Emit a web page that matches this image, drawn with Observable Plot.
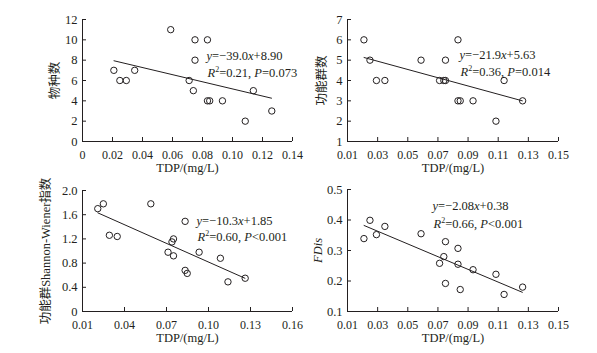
<!DOCTYPE html>
<html><head><meta charset="utf-8">
<script src="https://cdn.jsdelivr.net/npm/d3@7"></script>
<script src="https://cdn.jsdelivr.net/npm/@observablehq/plot@0.6"></script>
<style>
body{margin:0;background:#fff;}
#wrap{position:relative;width:597px;height:353px;overflow:hidden;background:#fff;}
#wrap svg{position:absolute;overflow:visible;background:transparent;}
</style></head><body><div id="wrap"></div>
<script>
// shared x values (TDP, mg/L)
const tdp = [0.0209,0.0249,0.0292,0.0348,0.0588,0.0711,0.0739,0.0750,0.0750,0.0833,0.0833,0.0848,0.0933,0.1085,0.1139,0.1262];
// panel series
const species  = [7,6,6,7,11,6,5,10,8,10,4,4,4,2,5,3];
const groups   = [6,5,4,4,5,4,4,4,5,6,3,3,3,2,4,3];
const shannon  = [1.70,1.78,1.26,1.24,1.78,0.98,1.15,1.20,0.92,1.49,0.68,0.63,0.98,0.88,0.49,0.55];
const fdis     = [0.339,0.399,0.352,0.379,0.355,0.258,0.280,0.329,0.192,0.307,0.255,0.172,0.237,0.222,0.156,0.180];
// fitted line end points
const fitX = [0.021, 0.126];
const fitSpecies = [7.94, 4.26];
const fitGroups = [5.13, 3.00];
const fitShannon = [1.63, 0.55];
const fitFdis = [0.382, 0.163];
// tick values
const xTicks1 = [0,0.02,0.04,0.06,0.08,0.10,0.12,0.14];
const xTicks2 = [0.01,0.03,0.05,0.07,0.09,0.11,0.13,0.15];
const xTicks3 = [0.01,0.04,0.07,0.10,0.13,0.16];
const yTicks1 = [0,2,4,6,8,10,12];
const yTicks2 = [1,2,3,4,5,6,7];
const yTicks3 = [0,0.4,0.8,1.2,1.6,2.0];
const yTicks4 = [0.1,0.2,0.3,0.4,0.5];
// texts
const xLabel = "TDP/(mg/L)";
const yLabels = ["物种数","功能群数","功能群Shannon-Wiener指数","*FDis*"];
const eqs = [
  ["*y*=−39.0*x*+8.90","*R*^2^=0.21, *P*=0.073"],
  ["*y*=−21.9*x*+5.63","*R*^2^=0.36, *P*=0.014"],
  ["*y*=−10.3*x*+1.85","*R*^2^=0.60, *P*<0.001"],
  ["*y*=−2.08*x*+0.38","*R*^2^=0.66, *P*<0.001"]
];

const ink = "#231f20";
const fmt = n => d => d === 0 ? "0" : d.toFixed(n);

function richify(svg){
  d3.select(svg).selectAll("text").each(function(){
    const t = this.textContent;
    if (!/[*^]/.test(t)) return;
    const el = d3.select(this);
    el.selectAll("*").remove(); el.text(null);
    const parts = t.split(/(\*[^*]+\*|\^[^^]+\^)/).filter(s => s);
    let sup = false;
    for (const p of parts) {
      let ts;
      if (p[0] === "*") ts = el.append("tspan").attr("font-style","italic").text(p.slice(1,-1));
      else if (p[0] === "^") { el.append("tspan").attr("font-size","8px").attr("dy","-5").text(p.slice(1,-1)); sup = true; continue; }
      else ts = el.append("tspan").text(p);
      if (sup) { ts.attr("dy","5"); sup = false; }
    }
  });
}

function panel(o){
  const ml = 82, mt = 19, mr = 24, mb = 36;
  const data = tdp.map((x,i) => ({x, y: o.ys[i]}));
  const line = fitX.map((x,i) => ({x, y: o.fit[i]}));
  const svg = Plot.plot({
    width: ml + o.fw + mr, height: mt + o.fh + mb,
    marginLeft: ml, marginTop: mt, marginRight: mr, marginBottom: mb,
    style: {fontFamily: "'Liberation Serif','Times New Roman','Noto Sans CJK SC',serif", fontSize: "12px", color: ink, background: "transparent", overflow: "visible"},
    x: {domain: o.xDomain},
    y: {domain: o.yDomain},
    marks: [
      Plot.axisX(o.xTicks, {tickSize: 0, tickPadding: 9, tickFormat: o.xFmt, label: null}),
      Plot.axisY(o.yTicks, {tickSize: 0, tickPadding: 5, tickFormat: o.yFmt, label: o.yLabel, labelAnchor: "center", labelOffset: o.ylOff, labelArrow: "none", fontSize: 12.5}),
      Plot.tickX(o.xTicks, {x: d => d, insetTop: o.fh - 4, stroke: ink}),
      Plot.tickY(o.yTicks, {y: d => d, insetRight: o.fw - 4, stroke: ink}),
      Plot.ruleX([o.xDomain[0]], {stroke: ink}),
      Plot.ruleY([o.yDomain[0]], {stroke: ink}),
      Plot.line(line, {x: "x", y: "y", stroke: ink, strokeWidth: 1}),
      Plot.dot(data, {x: "x", y: "y", r: 3.2, stroke: ink, fill: "none", strokeWidth: 1}),
      Plot.text([xLabel], {frameAnchor: "bottom", dy: 30, text: d => d, fontSize: 12.5, fill: ink}),
      Plot.text([o.eq[0]], {frameAnchor: "top-left", dx: o.eqDx, dy: o.eqDy[0], text: d => d, textAnchor: "start", lineAnchor: "bottom", fontSize: 12.5, fill: ink}),
      Plot.text([o.eq[1]], {frameAnchor: "top-left", dx: o.eqDx + 1, dy: o.eqDy[1], text: d => d, textAnchor: "start", lineAnchor: "bottom", fontSize: 12.5, fill: ink})
    ]
  });
  richify(svg);
  svg.style.left = o.left + "px";
  svg.style.top = o.top + "px";
  document.getElementById("wrap").appendChild(svg);
}

panel({left: 0, top: 0, fw: 210, fh: 122, xDomain: [0,0.14], yDomain: [0,12], xTicks: xTicks1, yTicks: yTicks1,
  xFmt: fmt(2), yFmt: d => String(d), ys: species, fit: fitSpecies, yLabel: yLabels[0], ylOff: 32,
  eq: eqs[0], eqDx: 124, eqDy: [40, 57]});
panel({left: 265, top: 0, fw: 211, fh: 122, xDomain: [0.01,0.15], yDomain: [1,7], xTicks: xTicks2, yTicks: yTicks2,
  xFmt: fmt(2), yFmt: d => String(d), ys: groups, fit: fitGroups, yLabel: yLabels[1], ylOff: 30,
  eq: eqs[1], eqDx: 112, eqDy: [39, 56]});
panel({left: 0, top: 171, fw: 210, fh: 121, xDomain: [0.01,0.16], yDomain: [0,2], xTicks: xTicks3, yTicks: yTicks3,
  xFmt: fmt(2), yFmt: fmt(1), ys: shannon, fit: fitShannon, yLabel: yLabels[2], ylOff: 41,
  eq: eqs[2], eqDx: 114, eqDy: [34, 50]});
panel({left: 265, top: 170, fw: 211, fh: 122, xDomain: [0.01,0.15], yDomain: [0.1,0.5], xTicks: xTicks2, yTicks: yTicks4,
  xFmt: fmt(2), yFmt: fmt(1), ys: fdis, fit: fitFdis, yLabel: yLabels[3], ylOff: 34,
  eq: eqs[3], eqDx: 85, eqDy: [20, 38]});
</script></body></html>
